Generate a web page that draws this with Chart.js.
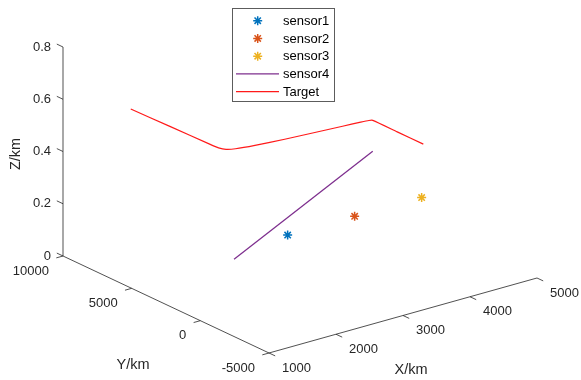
<!DOCTYPE html>
<html>
<head>
<meta charset="utf-8">
<script src="https://cdn.jsdelivr.net/npm/chart.js@4.4.1/dist/chart.umd.min.js"></script>
<style>
  html, body { margin: 0; padding: 0; background: #fff; }
  canvas { display: block; }
</style>
</head>
<body>
<canvas id="trackChart" width="581" height="380"></canvas>
<script>
// axis limits and ticks (km)
var xTicks = [1000, 2000, 3000, 4000, 5000];
var yTicks = [-5000, 0, 5000, 10000];
var zTicks = [0, 0.2, 0.4, 0.6, 0.8];

// fixed sensors
var sensorNames = ['sensor1', 'sensor2', 'sensor3'];
var sensorX = [3000, 4000, 5000];
var sensorY = [3400, 3400, 3400];
var sensorZ = [0.1, 0.1, 0.1];

// moving sensor (start / end)
var sensor4X = [2200, 4270];
var sensor4Y = [3400, 3400];
var sensor4Z = [0.065, 0.33];

// target track
var targetX = [1960, 1980, 2000, 2010, 2050, 2150, 2400, 2800, 3200, 3600, 3850, 3960, 4000, 4000, 4000];
var targetY = [9750, 7000, 4200, 3600, 3250, 3050, 2850, 2640, 2480, 2330, 2230, 2170, 2080, 300, -1600];
var targetZ = [0.5, 0.5, 0.5, 0.5, 0.5, 0.5, 0.5, 0.5, 0.5, 0.5, 0.5, 0.5, 0.5, 0.5, 0.5];

var xMin = xTicks[0], xMax = xTicks[xTicks.length - 1];
var yMin = yTicks[0], yMax = yTicks[yTicks.length - 1];
var zMin = zTicks[0], zMax = zTicks[zTicks.length - 1];

// orthographic view: corner (xMin, yMax, zMin) and screen step per data unit
var view = {
    ox: 63, oy: 256,
    ex: [67 / 1000, -18.75 / 1000],
    ey: [-68.67 / 5000, -32.33 / 5000],
    ez: -261.25
};

function project(x, y, z) {
    var dx = x - xMin, dy = y - yMax;
    return {
        x: view.ox + dx * view.ex[0] + dy * view.ey[0],
        y: view.oy + dx * view.ex[1] + dy * view.ey[1] + z * view.ez
    };
}

function track(xs, ys, zs) {
    return xs.map(function (x, i) { return project(x, ys[i], zs[i]); });
}

var FONT = 'Helvetica, Arial, "Liberation Sans", sans-serif';
var INK = '#262626';
var sensorColors = ['#0072BD', '#D95319', '#EDB120'];

var datasets = sensorNames.map(function (name, i) {
    return {
        label: name,
        data: [project(sensorX[i], sensorY[i], sensorZ[i])],
        pointStyle: 'star',
        pointRadius: 4.5,
        borderWidth: 1.5,
        borderColor: sensorColors[i],
        backgroundColor: sensorColors[i],
        showLine: false
    };
});
datasets.push({
    label: 'sensor4',
    data: track(sensor4X, sensor4Y, sensor4Z),
    showLine: true,
    pointRadius: 0,
    borderWidth: 1.3,
    borderColor: '#7E2F8E',
    backgroundColor: '#7E2F8E'
});
datasets.push({
    label: 'Target',
    data: track(targetX, targetY, targetZ),
    showLine: true,
    pointRadius: 0,
    borderWidth: 1.2,
    borderColor: '#FF1a1a',
    backgroundColor: '#FF1a1a',
    tension: 0.2
});

// axis lines, tick marks, tick labels and axis titles
var axes3d = {
    id: 'axes3d',
    beforeDatasetsDraw: function (chart) {
        var ctx = chart.ctx;
        var sx = chart.scales.x, sy = chart.scales.y;
        function px(p) { return { x: sx.getPixelForValue(p.x), y: sy.getPixelForValue(p.y) }; }
        function seg(a, b) {
            ctx.beginPath();
            ctx.moveTo(a.x, a.y);
            ctx.lineTo(b.x, b.y);
            ctx.stroke();
        }
        ctx.save();
        ctx.strokeStyle = 'rgba(38,38,38,0.8)';
        ctx.lineWidth = 1;
        // Z axis at (xMin, yMax), Y axis at (xMin, zMin), X axis at (yMin, zMin)
        seg(px(project(xMin, yMax, zMin)), px(project(xMin, yMax, zMax)));
        seg(px(project(xMin, yMax, zMin)), px(project(xMin, yMin, zMin)));
        seg(px(project(xMin, yMin, zMin)), px(project(xMax, yMin, zMin)));

        ctx.fillStyle = INK;
        ctx.font = '13px ' + FONT;
        ctx.textBaseline = 'middle';

        // Z ticks point toward +Y
        ctx.textAlign = 'right';
        zTicks.forEach(function (z) {
            var a = px(project(xMin, yMax, z));
            var b = px(project(xMin, yMax + 450, z));
            seg(a, b);
            ctx.fillText(String(z), a.x - 12, a.y);
        });
        // Y ticks point toward -X
        yTicks.forEach(function (y) {
            var a = px(project(xMin, y, zMin));
            var b = px(project(xMin - 100, y, zMin));
            seg(a, b);
            ctx.fillText(String(y), a.x - 14, a.y + 15);
        });
        // X ticks point toward -Y
        ctx.textAlign = 'left';
        xTicks.forEach(function (x) {
            var a = px(project(x, yMin, zMin));
            var b = px(project(x, yMin - 450, zMin));
            seg(a, b);
            ctx.fillText(String(x), a.x + 13, a.y + 15);
        });

        ctx.font = '14.5px ' + FONT;
        ctx.textAlign = 'center';
        ctx.fillText('X/km', 411, 370);
        ctx.fillText('Y/km', 133, 365);
        ctx.translate(16, 154);
        ctx.rotate(-Math.PI / 2);
        ctx.fillText('Z/km', 0, 0);
        ctx.restore();
    }
};

// boxed legend in the top centre
var boxLegend = {
    id: 'boxLegend',
    afterDraw: function (chart) {
        var ctx = chart.ctx;
        var left = 232, top = 8, w = 103, h = 94, rowH = 17.75, firstRow = 20.7;
        ctx.save();
        ctx.fillStyle = '#fff';
        ctx.fillRect(left, top, w, h);
        ctx.strokeStyle = 'rgba(38,38,38,0.75)';
        ctx.lineWidth = 1;
        ctx.strokeRect(left + 0.5, top + 0.5, w - 1, h - 1);
        ctx.font = '13px ' + FONT;
        ctx.textBaseline = 'middle';
        ctx.textAlign = 'left';
        chart.data.datasets.forEach(function (ds, i) {
            var y = firstRow + i * rowH;
            ctx.strokeStyle = ds.borderColor;
            ctx.fillStyle = ds.borderColor;
            if (ds.showLine) {
                ctx.lineWidth = ds.borderWidth;
                ctx.beginPath();
                ctx.moveTo(236, y);
                ctx.lineTo(279, y);
                ctx.stroke();
            } else {
                ctx.lineWidth = ds.borderWidth;
                Chart.helpers.drawPoint(ctx, {
                    pointStyle: ds.pointStyle, radius: ds.pointRadius,
                    borderWidth: ds.borderWidth, rotation: 0
                }, 257.7, y);
            }
            ctx.fillStyle = '#000';
            ctx.fillText(ds.label, 283, y + 0.5);
        });
        ctx.restore();
    }
};

new Chart(document.getElementById('trackChart').getContext('2d'), {
    type: 'scatter',
    data: { datasets: datasets },
    options: {
        responsive: false,
        animation: false,
        layout: { padding: 0, autoPadding: false },
        plugins: {
            legend: { display: false },
            tooltip: { enabled: false }
        },
        scales: {
            x: { type: 'linear', min: 0, max: 581, display: false },
            y: { type: 'linear', min: 0, max: 380, reverse: true, display: false }
        }
    },
    plugins: [axes3d, boxLegend]
});
</script>
</body>
</html>
